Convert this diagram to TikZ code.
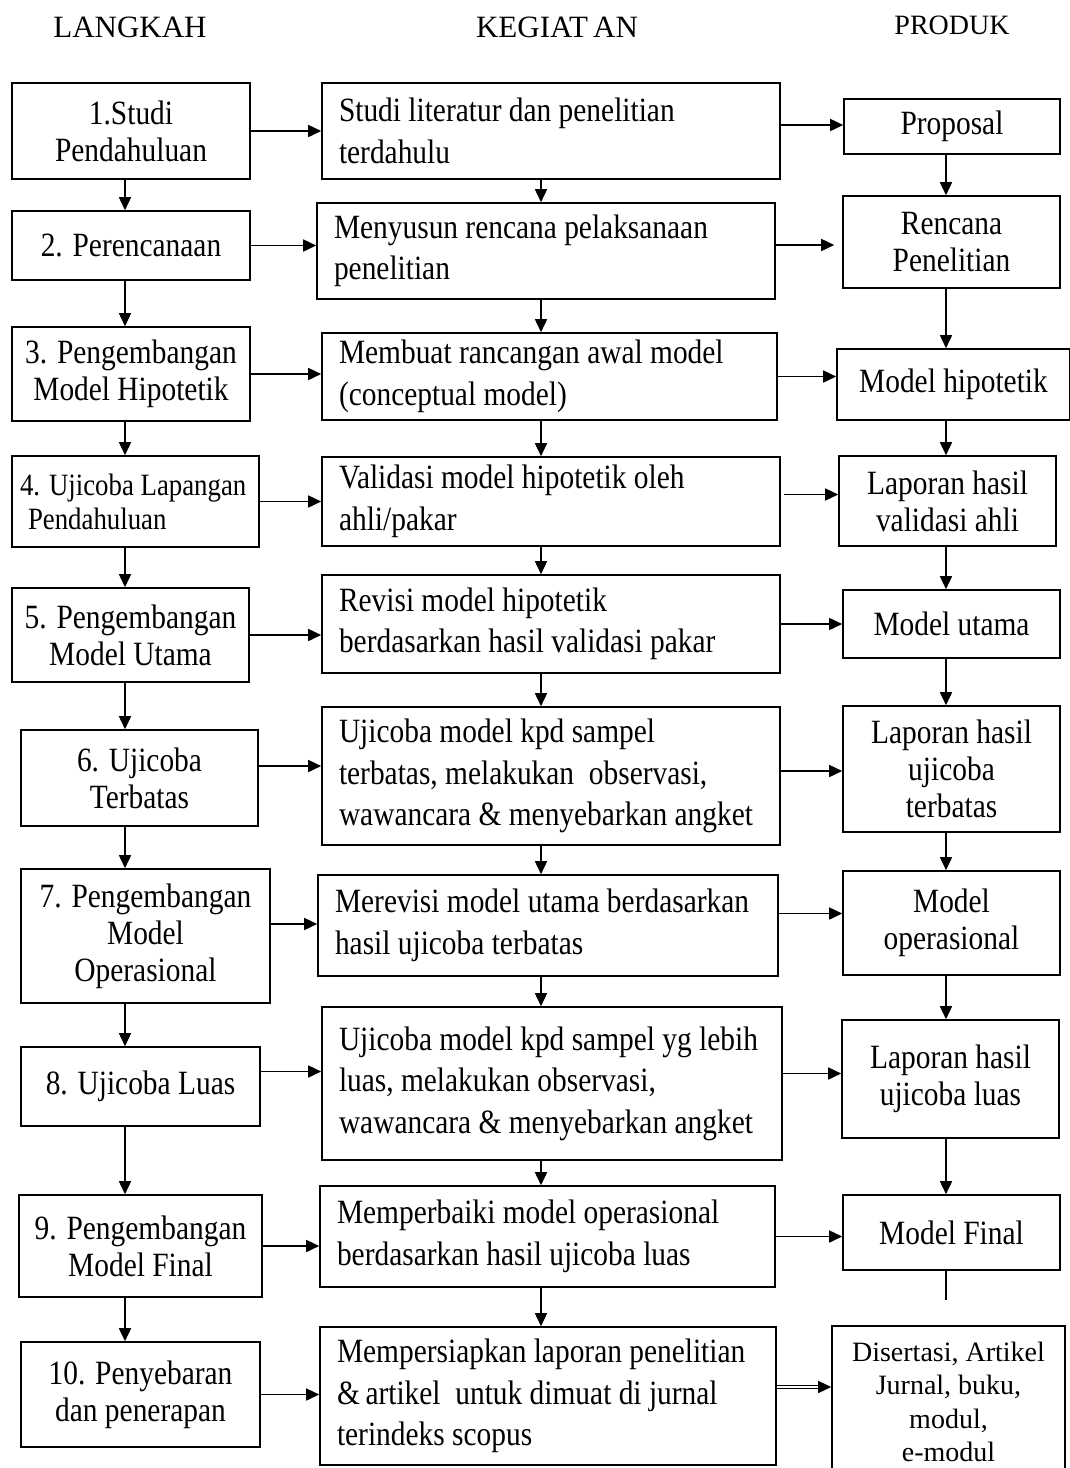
\documentclass[tikz,border=0pt]{standalone}
\usepackage{fontspec}
\setmainfont{Liberation Serif}[FakeStretch=0.865]
\newfontfamily\plainserif{Liberation Serif}
\usepackage{tikz}
\usetikzlibrary{arrows.meta,positioning}
\hyphenpenalty=10000

\begin{document}
\begin{tikzpicture}[x=1pt,y=-1pt]

\tikzset{
  box/.style={draw, line width=1.6pt, inner sep=0pt},
  lbox/.style={box, align=flush center, font=\fontsize{34}{37}\selectfont},
  mbox/.style={box, align=flush left, inner xsep=17pt, font=\fontsize{34}{41.5}\selectfont},
  rbox/.style={box, align=flush center, font=\fontsize{34}{37}\selectfont},
  head/.style={font=\plainserif\fontsize{31}{34}\selectfont},
  arr/.style={line width=1.6pt, -{Triangle[length=13pt,width=12pt]}}
}

\useasboundingbox (0,0) rectangle (1070,1468);

% column titles
\node[head] (hL) at (130,27) {LANGKAH};
\node[head] (hM) at (557,27) {KEGIAT\,AN};
\node[head, font=\plainserif\fontsize{28}{30}\selectfont] (hR) at (952,25) {PRODUK};

% langkah
\node[lbox, minimum width=238pt, minimum height=96pt] (L1) at (131,131) {1.Studi\\Pendahuluan};
\node[lbox, minimum width=238pt, minimum height=69pt] (L2) at (131,245.5) {2. Perencanaan};
\node[lbox, minimum width=238pt, minimum height=94pt] (L3) at (131,374) {3. Pengembangan\\Model Hipotetik};
\node[lbox, align=flush left, text width=231pt, inner xsep=8pt, minimum height=91pt,
      font=\fontsize{31}{34}\selectfont] (L4) at (135.5,501.5) {4. Ujicoba Lapangan\\\hspace*{8pt}Pendahuluan};
\node[lbox, minimum width=237pt, minimum height=94pt] (L5) at (130.5,635) {5. Pengembangan\\Model Utama};
\node[lbox, minimum width=237pt, minimum height=96pt] (L6) at (139.5,778) {6. Ujicoba\\Terbatas};
\node[lbox, minimum width=249pt, minimum height=134pt] (L7) at (145.5,936) {7. Pengembangan\\Model\\Operasional};
\node[lbox, minimum width=239pt, minimum height=79pt] (L8) at (140.5,1086.5) {8. Ujicoba Luas};
\node[lbox, minimum width=243pt, minimum height=102pt] (L9) at (140.5,1246) {9. Pengembangan\\Model Final};
\node[lbox, minimum width=239pt, minimum height=105pt] (L10) at (140.5,1394.5) {10. Penyebaran\\dan penerapan};

% kegiatan
\node[mbox, text width=424pt, minimum height=96pt] (M1) at (551,131) {Studi literatur dan penelitian\\terdahulu};
\node[mbox, text width=424pt, minimum height=96pt] (M2) at (546,251) {Menyusun rencana pelaksanaan\\penelitian};
\node[mbox, text width=421pt, minimum height=87pt] (M3) at (549.5,376.5) {Membuat rancangan awal model\\(conceptual model)};
\node[mbox, text width=424pt, minimum height=89pt] (M4) at (551,501.5) {Validasi model hipotetik oleh\\ahli/pakar};
\node[mbox, text width=424pt, minimum height=98pt] (M5) at (551,624) {Revisi model hipotetik\\berdasarkan hasil validasi pakar};
\node[mbox, text width=424pt, minimum height=138pt] (M6) at (551,776) {Ujicoba model kpd sampel\\terbatas, melakukan\ \ observasi,\\wawancara \& menyebarkan angket};
\node[mbox, text width=426pt, minimum height=101pt] (M7) at (548,925.5) {Merevisi model utama berdasarkan\\hasil ujicoba terbatas};
\node[mbox, text width=426pt, minimum height=153pt] (M8) at (552,1083.5) {Ujicoba model kpd sampel yg lebih\\luas, melakukan observasi,\\wawancara \& menyebarkan angket};
\node[mbox, text width=421pt, minimum height=101pt] (M9) at (547.5,1236.5) {Memperbaiki model operasional\\berdasarkan hasil ujicoba luas};
\node[mbox, text width=422pt, minimum height=138pt] (M10) at (548,1396) {Mempersiapkan laporan penelitian\\\&\,artikel\ \ untuk dimuat di jurnal\\terindeks scopus};

% produk
\node[rbox, minimum width=216pt, minimum height=55pt] (R1) at (952,126.5) {Proposal};
\node[rbox, minimum width=217pt, minimum height=92pt] (R2) at (951.5,242) {Rencana\\Penelitian};
\node[rbox, minimum width=233pt, minimum height=71pt] (R3) at (953.5,384.5) {Model hipotetik};
\node[rbox, minimum width=217pt, minimum height=90pt] (R4) at (947.5,501) {Laporan hasil\\validasi ahli};
\node[rbox, minimum width=217pt, minimum height=68pt] (R5) at (951.5,624) {Model utama};
\node[rbox, minimum width=217pt, minimum height=126pt] (R6) at (951.5,769) {Laporan hasil\\ujicoba\\terbatas};
\node[rbox, minimum width=217pt, minimum height=104pt] (R7) at (951.5,923) {Model\\operasional};
\node[rbox, minimum width=217pt, minimum height=118pt] (R8) at (950.5,1079) {Laporan hasil\\ujicoba luas};
\node[rbox, minimum width=217pt, minimum height=75pt] (R9) at (951.5,1232.5) {Model Final};
\node[box, anchor=north, align=flush center, text width=233pt, inner ysep=16pt, minimum height=200pt,
      font=\plainserif\fontsize{28}{33.5}\selectfont] (R10) at (948.5,1325)
      {Disertasi, Artikel\\Jurnal, buku,\\modul,\\e-modul\\[2em]\strut};

% column guides for the downward arrows
\coordinate (cl) at (125,0);
\coordinate (cm) at (541,0);
\coordinate (cr) at (946,0);
\coordinate (Rend) at (946,1300);

% langkah -> kegiatan
\draw[arr] (L1.east) -- (L1.east -| M1.west);
\draw[arr] (L2.east) -- (L2.east -| M2.west);
\draw[arr] (L3.east) -- (L3.east -| M3.west);
\draw[arr] (L4.east) -- (L4.east -| M4.west);
\draw[arr] (L5.east) -- (L5.east -| M5.west);
\draw[arr] ([yshift=12pt]L6.east) -- ([yshift=12pt]L6.east -| M6.west);
\draw[arr] ([yshift=12pt]L7.east) -- ([yshift=12pt]L7.east -| M7.west);
\draw[arr] ([yshift=15pt]L8.east) -- ([yshift=15pt]L8.east -| M8.west);
\draw[arr] (L9.east) -- (L9.east -| M9.west);
\draw[arr] (L10.east) -- (L10.east -| M10.west);

% kegiatan -> produk
\draw[arr] ([yshift=6pt]M1.east) -- ([yshift=6pt]M1.east -| R1.west);
\draw[arr, shorten >=8pt] ([yshift=6pt]M2.east) -- ([yshift=6pt]M2.east -| R2.west);
\draw[arr] (M3.east) -- (M3.east -| R3.west);
\draw[arr] ([xshift=3pt,yshift=7pt]M4.east) -- ([yshift=7pt]M4.east -| R4.west);
\draw[arr] (M5.east) -- (M5.east -| R5.west);
\draw[arr] ([yshift=5pt]M6.east) -- ([yshift=5pt]M6.east -| R6.west);
\draw[arr] ([yshift=12pt]M7.east) -- ([yshift=12pt]M7.east -| R7.west);
\draw[arr] ([yshift=10pt]M8.east) -- ([yshift=10pt]M8.east -| R8.west);
\draw[arr] (M9.east) -- (M9.east -| R9.west);
\draw[arr, line width=1.3pt, double, double distance=1.4pt] ([yshift=9pt]M10.east) -- ([yshift=9pt]M10.east -| R10.west);

% langkah downwards
\draw[arr] (L1.south -| cl) -- (L2.north -| cl);
\draw[arr] (L2.south -| cl) -- (L3.north -| cl);
\draw[arr] (L3.south -| cl) -- (L4.north -| cl);
\draw[arr] (L4.south -| cl) -- (L5.north -| cl);
\draw[arr] (L5.south -| cl) -- (L6.north -| cl);
\draw[arr] (L6.south -| cl) -- (L7.north -| cl);
\draw[arr] (L7.south -| cl) -- (L8.north -| cl);
\draw[arr] (L8.south -| cl) -- (L9.north -| cl);
\draw[arr] (L9.south -| cl) -- (L10.north -| cl);

% kegiatan downwards
\draw[arr] (M1.south -| cm) -- (M2.north -| cm);
\draw[arr] (M2.south -| cm) -- (M3.north -| cm);
\draw[arr] (M3.south -| cm) -- (M4.north -| cm);
\draw[arr] (M4.south -| cm) -- (M5.north -| cm);
\draw[arr] (M5.south -| cm) -- (M6.north -| cm);
\draw[arr] (M6.south -| cm) -- (M7.north -| cm);
\draw[arr] (M7.south -| cm) -- (M8.north -| cm);
\draw[arr] (M8.south -| cm) -- (M9.north -| cm);
\draw[arr] (M9.south -| cm) -- (M10.north -| cm);

% produk downwards
\draw[arr] (R1.south -| cr) -- (R2.north -| cr);
\draw[arr] (R2.south -| cr) -- (R3.north -| cr);
\draw[arr] (R3.south -| cr) -- (R4.north -| cr);
\draw[arr] (R4.south -| cr) -- (R5.north -| cr);
\draw[arr] (R5.south -| cr) -- (R6.north -| cr);
\draw[arr] (R6.south -| cr) -- (R7.north -| cr);
\draw[arr] (R7.south -| cr) -- (R8.north -| cr);
\draw[arr] (R8.south -| cr) -- (R9.north -| cr);
\draw[line width=1.6pt] (R9.south -| cr) -- (Rend);

\end{tikzpicture}
\end{document}
